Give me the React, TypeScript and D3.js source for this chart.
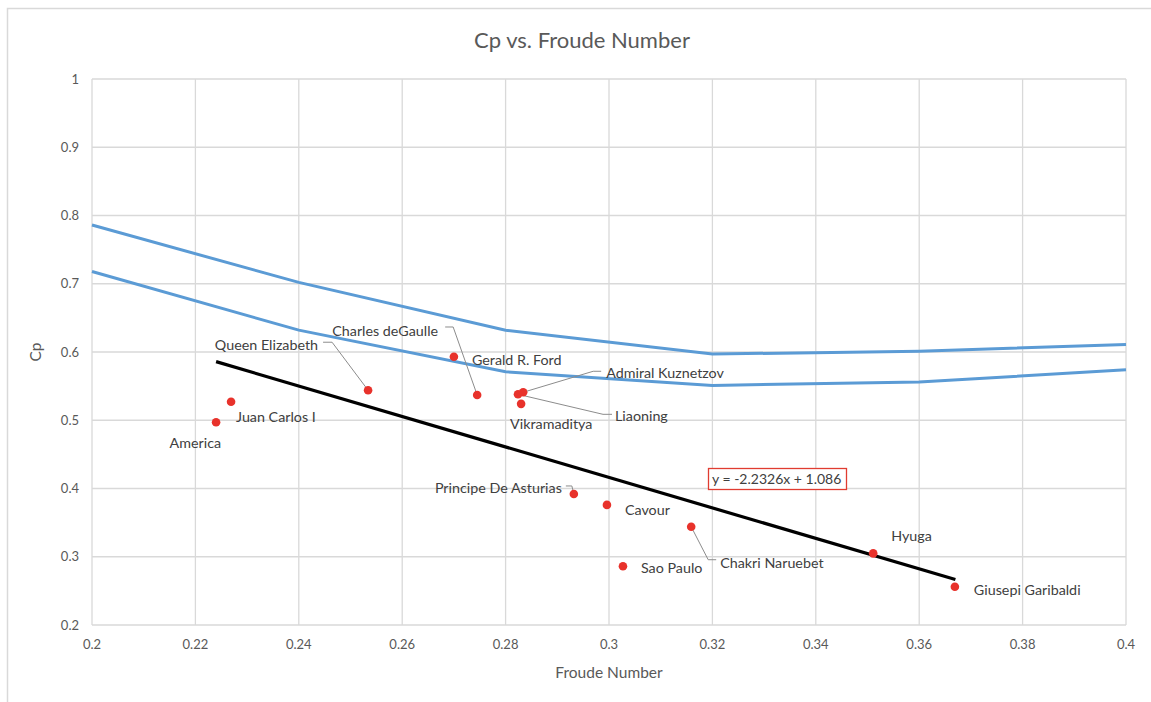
import { useEffect, useRef } from 'react';
import * as d3 from 'd3';

// Ships (scatter points)
const shipNames = [
  'America', 'Juan Carlos I', 'Queen Elizabeth', 'Gerald R. Ford', 'Charles deGaulle',
  'Admiral Kuznetzov', 'Liaoning', 'Vikramaditya', 'Principe De Asturias', 'Cavour',
  'Sao Paulo', 'Chakri Naruebet', 'Hyuga', 'Giusepi Garibaldi',
];
const froude = [0.224, 0.2269, 0.2534, 0.270, 0.2745, 0.2834, 0.2824, 0.283, 0.2932, 0.2996, 0.3027, 0.3159, 0.3511, 0.3669];
const cp = [0.497, 0.527, 0.544, 0.593, 0.537, 0.541, 0.538, 0.524, 0.392, 0.376, 0.286, 0.344, 0.305, 0.256];

// Boundary curves
const boundaryFroude = [0.2, 0.24, 0.28, 0.32, 0.36, 0.4];
const upperCp = [0.786, 0.702, 0.632, 0.597, 0.601, 0.611];
const lowerCp = [0.718, 0.632, 0.571, 0.551, 0.556, 0.574];

// Linear trendline
const trendSlope = -2.2326;
const trendIntercept = 1.086;
const trendRange = [0.224, 0.367];

const xTicks = [0.2, 0.22, 0.24, 0.26, 0.28, 0.3, 0.32, 0.34, 0.36, 0.38, 0.4];
const yTicks = [0.2, 0.3, 0.4, 0.5, 0.6, 0.7, 0.8, 0.9, 1];

// label placement relative to its point (px); leader elbows are offsets too
const labelLayout: { dx: number; dy: number; anchor?: string; leader?: [number, number][] }[] = [
  { dx: 5, dy: 21, anchor: 'end' },
  { dx: 5, dy: 15 },
  { dx: -50, dy: -45, anchor: 'end', leader: [[-45, -48], [-36, -48]] },
  { dx: 18, dy: 3 },
  { dx: -39, dy: -64, anchor: 'end', leader: [[-32, -68], [-24, -68]] },
  { dx: 83, dy: -19, leader: [[78, -21], [70, -21]] },
  { dx: 97, dy: 22, leader: [[94, 20], [85, 20]] },
  { dx: -11, dy: 20 },
  { dx: -12, dy: -6, anchor: 'end', leader: [[-8, -8], [-2, -8]] },
  { dx: 18, dy: 5 },
  { dx: 18, dy: 2 },
  { dx: 29, dy: 36, leader: [[25, 33], [17, 33]] },
  { dx: 18, dy: -17 },
  { dx: 19, dy: 3 },
];

export default function App() {
  const svgRef = useRef<SVGSVGElement>(null);

  useEffect(() => {
    if (!svgRef.current) return;
    const W = 1151;
    const H = 702;
    const margin = { top: 79, right: 25, bottom: 77, left: 92 };
    const font = 'Lato, "Open Sans", sans-serif';
    const textColor = '#595959';

    const root = d3.select(svgRef.current);
    root.selectAll('*').remove();
    root.attr('width', W).attr('height', H).attr('font-family', font);

    // outer chart frame
    root.append('rect')
      .attr('x', 7.5).attr('y', 8.5)
      .attr('width', W + 10).attr('height', H + 10)
      .attr('fill', '#fff').attr('stroke', '#d9d9d9').attr('stroke-width', 1.5);

    const x = d3.scaleLinear().domain([0.2, 0.4]).range([margin.left, W - margin.right]);
    const y = d3.scaleLinear().domain([0.2, 1]).range([H - margin.bottom, margin.top]);

    // gridlines
    const grid = root.append('g').attr('stroke', '#d9d9d9').attr('stroke-width', 1.3);
    xTicks.forEach(t => {
      grid.append('line').attr('x1', x(t)).attr('x2', x(t)).attr('y1', y(0.2)).attr('y2', y(1));
    });
    yTicks.forEach(t => {
      grid.append('line').attr('x1', x(0.2)).attr('x2', x(0.4)).attr('y1', y(t)).attr('y2', y(t));
    });

    // tick labels
    root.append('g')
      .selectAll('text')
      .data(xTicks)
      .join('text')
      .attr('x', d => x(d))
      .attr('y', y(0.2) + 24)
      .attr('text-anchor', 'middle')
      .attr('font-size', 13)
      .attr('fill', textColor)
      .text(d => d3.format('~g')(d));

    root.append('g')
      .selectAll('text')
      .data(yTicks)
      .join('text')
      .attr('x', x(0.2) - 13)
      .attr('y', d => y(d))
      .attr('dy', '0.35em')
      .attr('text-anchor', 'end')
      .attr('font-size', 13)
      .attr('fill', textColor)
      .text(d => d3.format('~g')(d));

    // title and axis titles
    root.append('text')
      .attr('x', 582).attr('y', 48)
      .attr('text-anchor', 'middle')
      .attr('font-size', 22)
      .attr('fill', textColor)
      .text('Cp vs. Froude Number');

    root.append('text')
      .attr('x', 609).attr('y', 678)
      .attr('text-anchor', 'middle')
      .attr('font-size', 15.5)
      .attr('fill', textColor)
      .text('Froude Number');

    root.append('text')
      .attr('transform', `translate(41,${y(0.6)}) rotate(-90)`)
      .attr('text-anchor', 'middle')
      .attr('font-size', 15.5)
      .attr('fill', textColor)
      .text('Cp');

    // boundary curves
    const line = d3.line<[number, number]>()
      .x(d => x(d[0]))
      .y(d => y(d[1]));
    [upperCp, lowerCp].forEach(vals => {
      root.append('path')
        .datum(boundaryFroude.map((f, i) => [f, vals[i]] as [number, number]))
        .attr('fill', 'none')
        .attr('stroke', '#5b9bd5')
        .attr('stroke-width', 3)
        .attr('d', line);
    });

    // trendline
    root.append('path')
      .datum(trendRange.map(f => [f, trendSlope * f + trendIntercept] as [number, number]))
      .attr('fill', 'none')
      .attr('stroke', '#000')
      .attr('stroke-width', 3.2)
      .attr('d', line);

    // leader lines
    const leaders = root.append('g').attr('fill', 'none').attr('stroke', '#8c8c8c').attr('stroke-width', 1);
    shipNames.forEach((_, i) => {
      const lay = labelLayout[i];
      if (!lay.leader) return;
      const px = x(froude[i]);
      const py = y(cp[i]);
      const pts = lay.leader.map(([dx, dy]) => [px + dx, py + dy] as [number, number]);
      pts.push([px, py]);
      leaders.append('path').attr('d', d3.line()(pts));
    });

    // points
    root.append('g')
      .selectAll('circle')
      .data(shipNames)
      .join('circle')
      .attr('cx', (_, i) => x(froude[i]))
      .attr('cy', (_, i) => y(cp[i]))
      .attr('r', 4.3)
      .attr('fill', '#e8322b');

    // data labels
    root.append('g')
      .selectAll('text')
      .data(shipNames)
      .join('text')
      .attr('x', (_, i) => x(froude[i]) + labelLayout[i].dx)
      .attr('y', (_, i) => y(cp[i]) + labelLayout[i].dy)
      .attr('dy', '0.35em')
      .attr('text-anchor', (_, i) => labelLayout[i].anchor ?? 'start')
      .attr('font-size', 14.3)
      .attr('fill', '#404040')
      .text(d => d);

    // trendline equation box
    const eq = root.append('g');
    eq.append('rect')
      .attr('x', 708.5).attr('y', 468.5)
      .attr('width', 138).attr('height', 21)
      .attr('fill', '#fff').attr('stroke', '#e03c31').attr('stroke-width', 1.3);
    eq.append('text')
      .attr('x', 712).attr('y', 479)
      .attr('dy', '0.35em')
      .attr('font-size', 14)
      .attr('fill', '#404040')
      .text(`y = ${trendSlope}x + ${trendIntercept}`);
  }, []);

  return (
    <div style={{ position: 'absolute', left: 0, top: 0 }}>
      <svg ref={svgRef} style={{ display: 'block' }} />
    </div>
  );
}
